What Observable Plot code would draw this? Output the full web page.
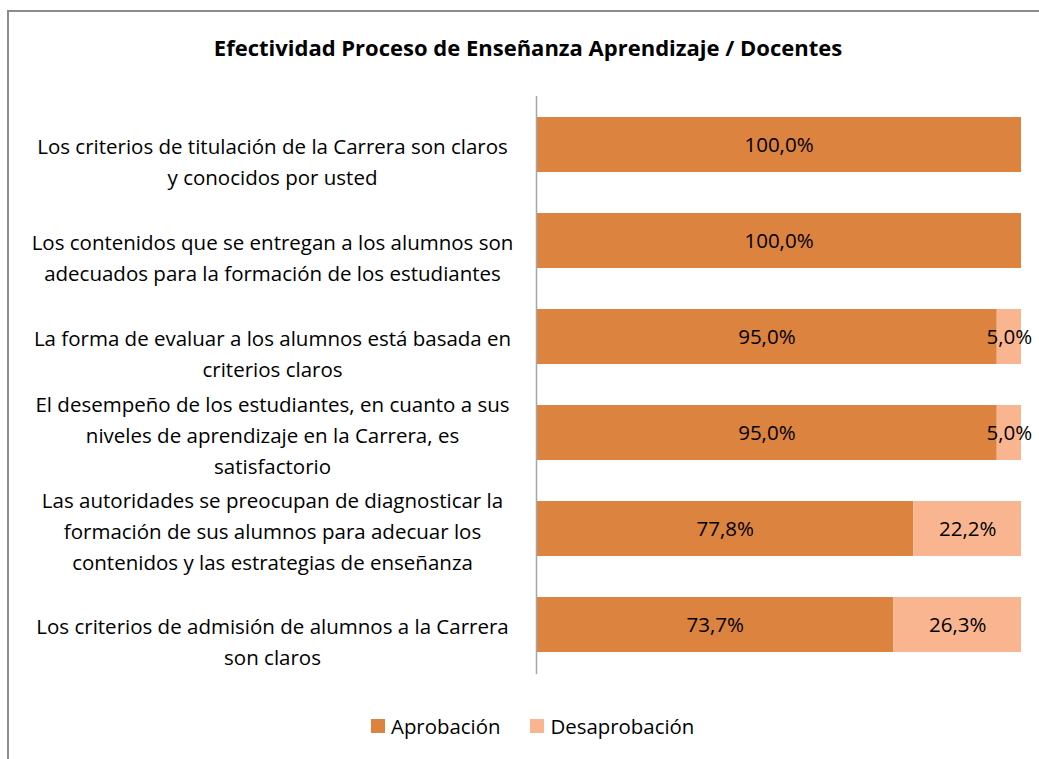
<!DOCTYPE html>
<html>
<head>
<meta charset="utf-8">
<script src="https://cdn.jsdelivr.net/npm/d3@7"></script>
<script src="https://cdn.jsdelivr.net/npm/@observablehq/plot@0.6"></script>
<style>
  html, body { margin: 0; padding: 0; background: #fff; }
  body { width: 1039px; height: 759px; overflow: hidden; position: relative; font-family: "Open Sans", sans-serif; }
  #frame { position: absolute; left: 7px; top: 10px; width: 1100px; height: 800px; border-left: 2px solid #8c8c8c; border-top: 2px solid #8c8c8c; box-sizing: border-box; }
  #title { position: absolute; left: 0; width: 1056px; top: 32px; text-align: center; font-weight: bold; font-size: 22px; color: #000; line-height: 30px; }
  #chart { position: absolute; left: 0; top: 80px; }
  #legend { position: absolute; left: 371px; top: 712px; display: flex; align-items: center; font-size: 20.4px; color: #000; }
  .item { display: flex; align-items: center; }
  .sw { width: 14px; height: 14px; margin-right: 6px; }
</style>
</head>
<body>
<div id="frame"></div>
<div id="title">Efectividad Proceso de Enseñanza Aprendizaje / Docentes</div>
<div id="chart"></div>
<div id="legend"></div>
<script>
const categories = [
  "Los criterios de titulación de la Carrera son claros\ny conocidos por usted",
  "Los contenidos que se entregan a los alumnos son\nadecuados para la formación de los estudiantes",
  "La forma de evaluar a los alumnos está basada en\ncriterios claros",
  "El desempeño de los estudiantes, en cuanto a sus\nniveles de aprendizaje en la Carrera, es\nsatisfactorio",
  "Las autoridades se preocupan de diagnosticar la\nformación de sus alumnos para adecuar los\ncontenidos y las estrategias de enseñanza",
  "Los criterios de admisión de alumnos a la Carrera\nson claros"
];
const series = ["Aprobación", "Desaprobación"];
const aprobacion = [100.0, 100.0, 95.0, 95.0, 77.8, 73.7];
const desaprobacion = [0.0, 0.0, 5.0, 5.0, 22.2, 26.3];
const colors = ["#DB833F", "#F8B58F"];

const data = [];
categories.forEach((c, i) => {
  data.push({q: c, serie: series[0], value: aprobacion[i]});
  data.push({q: c, serie: series[1], value: desaprobacion[i]});
});
const fmt = v => v.toFixed(1).replace(".", ",") + "%";
const nLines = s => s.split("\n").length;
const FS = 20.5;

const chart = Plot.plot({
  width: 1039,
  height: 610,
  marginLeft: 536,
  marginRight: 18,
  marginTop: 16,
  marginBottom: 16,
  style: {fontFamily: "'Open Sans', sans-serif", fontSize: FS + "px", background: "transparent", overflow: "visible"},
  x: {domain: [0, 100], axis: null},
  y: {domain: categories, axis: null, paddingInner: 0.427, paddingOuter: 0.22},
  color: {domain: series, range: colors},
  marks: [
    Plot.barX(data, {x: "value", y: "q", fill: "serie"}),
    Plot.text(data, Plot.stackX({
      x: "value", y: "q", z: "serie",
      text: d => d.value > 0 ? fmt(d.value) : "",
      fill: "#000", fontSize: FS
    })),
    Plot.text(categories.filter(c => nLines(c) === 2), {
      y: d => d, text: d => d, frameAnchor: "left", dx: -264, dy: 15,
      textAnchor: "middle", lineAnchor: "middle", lineHeight: 31 / FS,
      fill: "#000", fontSize: FS
    }),
    Plot.text(categories.filter(c => nLines(c) === 3), {
      y: d => d, text: d => d, frameAnchor: "left", dx: -264, dy: 0,
      textAnchor: "middle", lineAnchor: "middle", lineHeight: 31 / FS,
      fill: "#000", fontSize: FS
    }),
    Plot.ruleX([0], {stroke: "#a6a6a6", strokeWidth: 1.5})
  ]
});
document.getElementById("chart").appendChild(chart);

const legend = document.getElementById("legend");
series.forEach((s, i) => {
  const item = document.createElement("div");
  item.className = "item";
  if (i > 0) item.style.marginLeft = "30px";
  const sw = document.createElement("div");
  sw.className = "sw";
  sw.style.background = colors[i];
  const t = document.createElement("span");
  t.textContent = s;
  item.appendChild(sw);
  item.appendChild(t);
  legend.appendChild(item);
});
</script>
</body>
</html>
